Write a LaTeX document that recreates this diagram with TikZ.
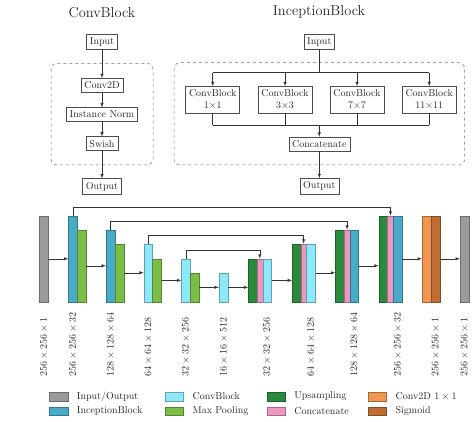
\documentclass[tikz,border=0pt]{standalone}
\usetikzlibrary{positioning}
\definecolor{iogray}{RGB}{155,155,155}
\definecolor{incblue}{RGB}{72,172,200}
\definecolor{cbcyan}{RGB}{140,232,250}
\definecolor{poolgreen}{RGB}{122,190,70}
\definecolor{upgreen}{RGB}{44,138,60}
\definecolor{catpink}{RGB}{236,150,192}
\definecolor{convorange}{RGB}{240,150,80}
\definecolor{sigbrown}{RGB}{190,110,50}
\tikzset{
  blk/.style={draw=black!70, line width=0.5pt, align=center, text=black!85},
  arr/.style={-latex, draw=black!80, line width=0.5pt},
  frame/.style={draw=black!55, dashed, rounded corners=6pt, line width=0.5pt},
  bar/.style={anchor=south west, inner sep=0pt, line width=0.4pt},
  dimlabel/.style={rotate=90, anchor=west, inner sep=0pt, text=black!85},
  swatch/.style={minimum width=18.4pt, minimum height=8.5pt, inner sep=0pt, line width=0.4pt}
}
\begin{document}
\begin{tikzpicture}[x=1pt,y=-1pt]
  \useasboundingbox (0,0) rectangle (474,422);
  % ConvBlock
  \node[text=black!85] (cbtitle) at (102,13) {\Large ConvBlock};
  \draw[frame] (51,63.3) rectangle (153,165);
  \node[blk] (cbin) at (102,41.7) {Input};
  \node[blk] (conv2d) at (102,85.3) {Conv2D};
  \node[blk] (inorm) at (102,114.5) {Instance Norm};
  \node[blk] (swish) at (102,143.7) {Swish};
  \node[blk] (cbout) at (102,186.5) {Output};
  \draw[arr] (cbin) -- (conv2d);
  \draw[arr] (conv2d) -- (inorm);
  \draw[arr] (inorm) -- (swish);
  \draw[arr] (swish) -- (cbout);
  % InceptionBlock
  \node[text=black!85] (ibtitle) at (319,12) {\Large InceptionBlock};
  \draw[frame] (174,62.7) rectangle (464.7,165);
  \node[blk] (ibin) at (319.3,42) {Input};
  \coordinate (split) at (319.3,72.7);
  \coordinate (merge) at (319.3,125.3);
  \foreach \n/\x/\k in {k1/212.7/1, k3/285/3, k7/357/7, k11/429.2/11}
    \node[blk] (\n) at (\x,99.7) {ConvBlock\\$\k{\times}\k$};
  \node[blk] (concat) at (319.3,144) {Concatenate};
  \node[blk] (ibout) at (319.3,186.3) {Output};
  \draw[draw=black!80, line width=0.5pt] (ibin) -- (split);
  \draw[draw=black!80, line width=0.5pt] (k1.north |- split) -- (k11.north |- split);
  \draw[draw=black!80, line width=0.5pt] (k1.south |- merge) -- (k11.south |- merge);
  \foreach \n in {k1,k3,k7,k11} {
    \draw[arr] (\n.north |- split) -- (\n.north);
    \draw[draw=black!80, line width=0.5pt] (\n.south) -- (\n.south |- merge);
  }
  \draw[arr] (merge) -- (concat);
  \draw[arr] (concat) -- (ibout);
  % U-Net
  \foreach \n/\x/\h/\w/\c in {
      inp/39.3/86/9/iogray, inc1/68.3/86/9/incblue, mp1/77.3/72/8.7/poolgreen,
      inc2/106/72/9/incblue, mp2/115/58/8.7/poolgreen,
      cb3/143.7/58/8.7/cbcyan, mp3/152.4/43/8.9/poolgreen,
      cb4/181.3/43/8.7/cbcyan, mp4/190/29/9/poolgreen,
      cb5/219/29/9/cbcyan,
      up1/248.3/43/8.4/upgreen, cat1/256.7/43/5.8/catpink, dc1/262.5/43/8.8/cbcyan,
      up2/292/58/8.5/upgreen, cat2/300.5/58/5.8/catpink, dc2/306.3/58/9/cbcyan,
      up3/335.3/72/8.7/upgreen, cat3/344/72/5.8/catpink, dc3/349.8/72/8.6/incblue,
      up4/378.7/86/8.7/upgreen, cat4/387.4/86/5.8/catpink, dc4/393.2/86/8.8/incblue,
      conv/422/86/8.7/convorange, sig/430.7/86/9.3/sigbrown,
      out/460/86/8.7/iogray}
    \node[bar, minimum width=\w pt, minimum height=\h pt, fill=\c, draw=\c!70!black] (\n) at (\x,302) {};
  \foreach \a/\b in {inp/inc1, mp1/inc2, mp2/cb3, mp3/cb4, mp4/cb5,
      cb5/up1, dc1/up2, dc2/up3, dc3/up4, dc4/conv, sig/out}
    \draw[arr] (\a.east) -- (\a.east -| \b.west);
  \foreach \a/\b in {inc1/cat4, inc2/cat3, cb3/cat2, cb4/cat1}
    \draw[arr] (\a.north) -- ++(0,-8) -| (\b.north);
  \foreach \n/\t in {inp/256\times256\times1, inc1/256\times256\times32,
      inc2/128\times128\times64, cb3/64\times64\times128, cb4/32\times32\times256,
      cb5/16\times16\times512, dc1/32\times32\times256, dc2/64\times64\times128,
      dc3/128\times128\times64, dc4/256\times256\times32, sig/256\times256\times1,
      out/256\times256\times1}
    \node[dimlabel] (l-\n) at ([yshift=-75pt]\n.south) {$\t$};
  % legend
  \foreach \n/\x/\y/\c/\t in {
      io/58.5/396.5/iogray/{Input/Output}, inc/58.5/411/incblue/InceptionBlock,
      cb/174.2/396.5/cbcyan/ConvBlock, mp/174.2/411/poolgreen/Max Pooling,
      up/276/396.5/upgreen/Upsampling, cat/276/411/catpink/Concatenate,
      cv/377.2/396.5/convorange/{Conv2D $1\times1$}, sg/377.2/411/sigbrown/Sigmoid} {
    \node[swatch, fill=\c, draw=\c!70!black] (key-\n) at (\x,\y) {};
    \node[right=5.5pt of key-\n, text=black!85] (txt-\n) {\t};
  }
\end{tikzpicture}
\end{document}
